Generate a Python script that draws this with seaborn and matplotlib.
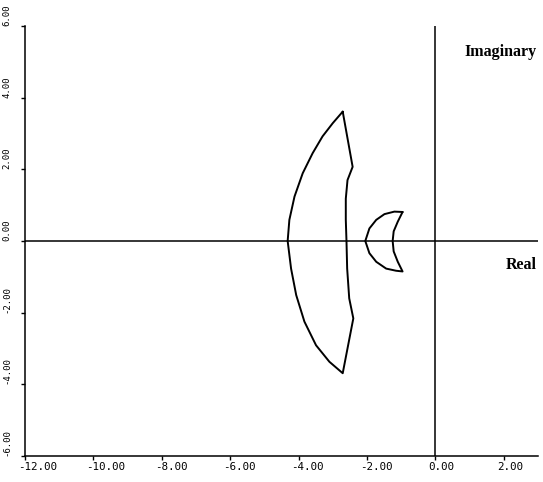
import matplotlib
matplotlib.use("Agg")
import matplotlib.pyplot as plt
import matplotlib.transforms as mtransforms
import seaborn as sns

# outer (crescent-like) region, traced clockwise from the top tip
big_re = [-2.71, -3.00, -3.30, -3.59, -3.88, -4.12, -4.27, -4.32, -4.22, -4.07,
          -3.83, -3.49, -3.10, -2.71, -2.40, -2.52, -2.58, -2.60, -2.62, -2.62,
          -2.57, -2.42, -2.71]
big_im = [3.61, 3.29, 2.92, 2.45, 1.89, 1.24, 0.59, 0.00, -0.77, -1.51,
          -2.25, -2.91, -3.37, -3.69, -2.16, -1.60, -0.77, 0.00, 0.59, 1.18,
          1.70, 2.07, 3.61]

# small region near -1.5
small_re = [-0.96, -1.20, -1.49, -1.73, -1.93, -2.05, -1.93, -1.73, -1.44, -1.15,
            -0.96, -1.10, -1.22, -1.25, -1.22, -1.10, -0.96]
small_im = [0.81, 0.82, 0.75, 0.59, 0.35, 0.00, -0.34, -0.58, -0.77, -0.83,
            -0.85, -0.58, -0.29, 0.00, 0.27, 0.54, 0.81]

xticks = [-12, -10, -8, -6, -4, -2, 0, 2]
yticks = [-6, -4, -2, 0, 2, 4, 6]

sns.set_style("ticks")
plt.rcParams['font.family'] = ['DejaVu Sans Mono', 'DejaVu Sans']
plt.rcParams['text.color'] = 'black'

fig = plt.figure(figsize=(5.43, 4.82), dpi=100)
ax = fig.add_axes([25 / 543, 26 / 482, 513 / 543, 430 / 482])

sns.lineplot(x=big_re, y=big_im, sort=False, estimator=None, color='black', lw=1.4, ax=ax)
sns.lineplot(x=small_re, y=small_im, sort=False, estimator=None, color='black', lw=1.4, ax=ax)

ax.axhline(0, color='black', lw=1.1)
ax.axvline(0, color='black', lw=1.1)

ax.set_xlim(-12, 3)
ax.set_ylim(-6, 6)
sns.despine(ax=ax)
for s in ['left', 'bottom']:
    ax.spines[s].set_color('black')
    ax.spines[s].set_linewidth(1.1)

ax.set_xticks(xticks)
ax.set_yticks(yticks)
ax.set_xticklabels([f"{v:.2f}" for v in xticks], fontsize=7.8)
ax.set_yticklabels([f"{v:.2f}" for v in yticks], fontsize=6.5)
ax.tick_params(axis='x', direction='out', length=3, width=1, pad=1, colors='black')
ax.tick_params(axis='y', direction='out', length=3, width=1, pad=7, colors='black')

shift = mtransforms.ScaledTranslation(-7 / 100, 0, fig.dpi_scale_trans)
for lab in ax.get_xticklabels():
    lab.set_horizontalalignment('left')
    lab.set_transform(lab.get_transform() + shift)
for lab in ax.get_yticklabels():
    lab.set_rotation(90)
    lab.set_verticalalignment('bottom')

ax.set_xlabel('')
ax.set_ylabel('')

ax.text(2.95, 5.28, 'Imaginary', ha='right', va='center', fontsize=11.5,
        fontweight='bold', family='Liberation Serif', color='black')
ax.text(2.95, -0.67, 'Real', ha='right', va='center', fontsize=11.5,
        fontweight='bold', family='Liberation Serif', color='black')

fig.savefig('out.png', dpi=100)
plt.close(fig)
